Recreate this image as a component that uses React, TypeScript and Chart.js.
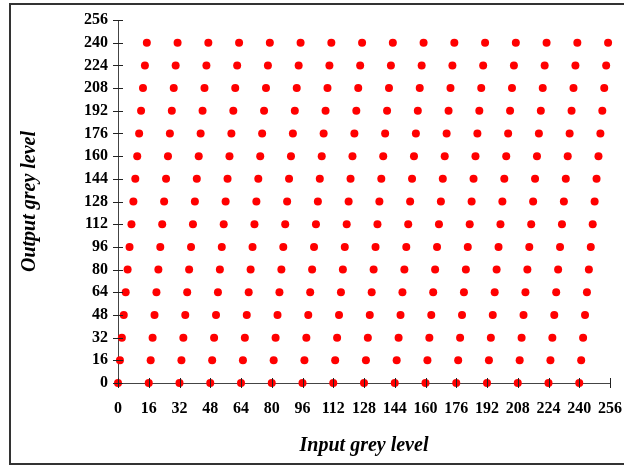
import React, { useEffect, useRef } from "react";
import { Chart, registerables } from "chart.js";

Chart.register(...registerables);

// Input (x) positions of the points in the bottom row
const inputColumns = [0, 16, 32, 48, 64, 80, 96, 112, 128, 144, 160, 176, 192, 208, 224, 240];
// Output (y) levels of each row
const outputLevels = [0, 16, 32, 48, 64, 80, 96, 112, 128, 144, 160, 176, 192, 208, 224, 240];
// Horizontal shift of each row
const rowShifts = [0, 1, 2, 3, 4, 5, 6, 7, 8, 9, 10, 11, 12, 13, 14, 15];
// Tick labels
const tickValues = [0, 16, 32, 48, 64, 80, 96, 112, 128, 144, 160, 176, 192, 208, 224, 240, 256];

const FONT = '"Liberation Serif", "Times New Roman", serif';

const points: { x: number; y: number }[] = [];
outputLevels.forEach((yv, r) => {
  inputColumns.forEach((xv) => {
    points.push({ x: xv + rowShifts[r], y: yv });
  });
});

const decorPlugin = {
  id: "decor",
  beforeDraw(chart: any) {
    const ctx = chart.ctx;
    ctx.save();
    ctx.fillStyle = "#ffffff";
    ctx.fillRect(0, 0, chart.width, chart.height);
    ctx.strokeStyle = "#333333";
    ctx.lineWidth = 2;
    ctx.strokeRect(10, 4, 640, 460);
    ctx.restore();
  },
  afterDraw(chart: any) {
    const ctx = chart.ctx;
    const xs = chart.scales.x;
    const ys = chart.scales.y;
    const area = chart.chartArea;
    ctx.save();
    ctx.strokeStyle = "#222222";
    ctx.lineWidth = 1;
    ctx.beginPath();
    tickValues.forEach((v) => {
      const px = Math.round(xs.getPixelForValue(v)) + 0.5;
      ctx.moveTo(px, area.bottom - 5);
      ctx.lineTo(px, area.bottom + 5);
      const py = Math.round(ys.getPixelForValue(v)) + 0.5;
      ctx.moveTo(area.left - 5, py);
      ctx.lineTo(area.left + 5, py);
    });
    ctx.stroke();
    ctx.restore();
  },
};

export default function App() {
  const ref = useRef<HTMLCanvasElement | null>(null);
  useEffect(() => {
    document.body.style.margin = "0";
    const canvas = ref.current;
    if (!canvas) return;
    const chart = new Chart(canvas, {
      type: "scatter",
      data: {
        datasets: [
          {
            data: points,
            backgroundColor: "#ff0000",
            borderWidth: 0,
            pointRadius: 4,
            pointHoverRadius: 4,
            clip: false,
          } as any,
        ],
      },
      options: {
        responsive: false,
        animation: false,
        devicePixelRatio: 1,
        layout: { padding: { left: 10, right: 14, top: 20, bottom: 6 } },
        plugins: { legend: { display: false }, tooltip: { enabled: false } },
        scales: {
          x: {
            type: "linear",
            min: 0,
            max: 256,
            afterBuildTicks: (scale: any) => {
              scale.ticks = tickValues.map((v) => ({ value: v }));
            },
            afterFit: (scale: any) => {
              scale.height = 77;
              scale.paddingLeft = 0;
              scale.paddingRight = 0;
            },
            grid: { display: false, drawTicks: false },
            border: { display: true, color: "#444444", width: 1 },
            ticks: {
              color: "#000",
              padding: 16,
              maxRotation: 0,
              autoSkip: false,
              font: { family: FONT, size: 16, weight: "bold" },
            },
            title: {
              display: true,
              text: "Input grey level",
              color: "#000",
              padding: { top: 0, bottom: 2 },
              font: { family: FONT, size: 20, weight: "bold", style: "italic" },
            },
          },
          y: {
            type: "linear",
            min: 0,
            max: 256,
            afterBuildTicks: (scale: any) => {
              scale.ticks = tickValues.map((v) => ({ value: v }));
            },
            afterFit: (scale: any) => {
              scale.width = 108;
              scale.paddingTop = 0;
              scale.paddingBottom = 0;
            },
            grid: { display: false, drawTicks: false },
            border: { display: true, color: "#444444", width: 1 },
            ticks: {
              color: "#000",
              padding: 10,
              autoSkip: false,
              font: { family: FONT, size: 16, weight: "bold" },
            },
            title: {
              display: true,
              text: "Output grey level",
              color: "#000",
              padding: { top: 8, bottom: 0 },
              font: { family: FONT, size: 20, weight: "bold", style: "italic" },
            },
          },
        },
      },
      plugins: [decorPlugin],
    } as any);
    return () => chart.destroy();
  }, []);
  return (
    <div style={{ position: "absolute", left: 0, top: 0, width: 624, height: 466 }}>
      <canvas ref={ref} width={624} height={466} style={{ display: "block", width: 624, height: 466 }} />
    </div>
  );
}
